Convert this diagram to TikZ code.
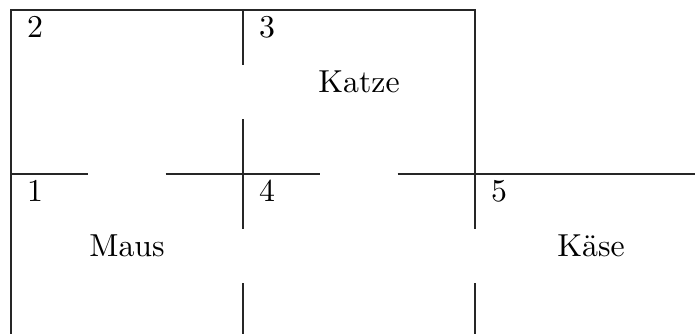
\documentclass[tikz,border=0pt]{standalone}
\begin{document}
\begin{tikzpicture}[x=0.3145pt,y=-0.3145pt,
  wall/.style={line width=0.4pt, draw=black!85},
  num/.style={anchor=base west, inner sep=0pt},
  roomname/.style={anchor=base, inner sep=0pt}]
\useasboundingbox (0,0) rectangle (695,334);
% walls
\draw[wall] (11,334) -- (11,10) -- (475,10) -- (475,228.7);
\draw[wall] (475,283.3) -- (475,334);
\draw[wall] (243,10) -- (243,64.7);
\draw[wall] (243,119.3) -- (243,228.7);
\draw[wall] (243,283.3) -- (243,334);
\draw[wall] (11,174) -- (88.3,174);
\draw[wall] (165.7,174) -- (320.3,174);
\draw[wall] (397.7,174) -- (695,174);
% room numbers
\node[num] (n2) at (26.5,37.5) {2};
\node[num] (n3) at (258.5,37.5) {3};
\node[num] (n1) at (26.5,201.5) {1};
\node[num] (n4) at (258.5,201.5) {4};
\node[num] (n5) at (490.5,201.5) {5};
% room names
\node[roomname] (katze) at (359,92) {Katze};
\node[roomname] (maus) at (127,256.5) {Maus};
\node[roomname] (kaese) at (591,256.5) {Käse};
\end{tikzpicture}
\end{document}
